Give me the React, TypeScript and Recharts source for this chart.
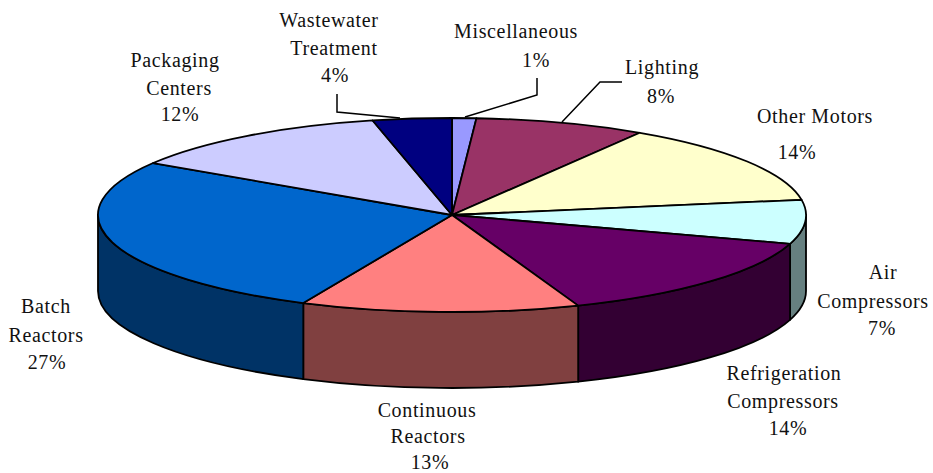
import { Pie, PieChart } from "recharts";

const categories = [
  "Miscellaneous",
  "Lighting",
  "Other Motors",
  "Air\nCompressors",
  "Refrigeration\nCompressors",
  "Continuous\nReactors",
  "Batch\nReactors",
  "Packaging\nCenters",
  "Wastewater\nTreatment",
];
const shares = [1.1, 7.8, 13.6, 7.3, 14.4, 12.7, 27.1, 12.4, 3.6];
const topColors = ["#9999FF", "#993366", "#FFFFCC", "#CCFFFF", "#660066", "#FF8080", "#0066CC", "#CCCCFF", "#000080"];
const wallColors = ["#666699", "#4D1A33", "#808066", "#668080", "#330033", "#804040", "#003366", "#666680", "#000040"];

// label placement, one entry per text line: centre x and baseline
const labelX = [
  [516, 536],
  [662, 661],
  [815, 797],
  [883, 873, 882],
  [784, 783, 788],
  [427, 428, 430],
  [46, 46, 47],
  [175, 179, 180],
  [329, 334, 335],
];
const labelBaselines = [
  [38, 67],
  [74, 103],
  [123, 159],
  [279, 308, 335],
  [380, 408, 435],
  [417, 443, 469],
  [313, 342, 369],
  [67, 95, 121],
  [27, 55, 82],
];
const leaderLines: Record<number, string> = {
  0: "537,78 537,95 465,117",
  1: "622,82 600,82 562,122",
  8: "337,94 337,112 400,118",
};

const data = categories.map((name, i) => ({ name, value: shares[i], fill: topColors[i], wall: wallColors[i] }));

const CX = 452;
const CY = 215;
const RX = 354;
const RY = 97;
const DEPTH = 76;

// recharts angles are counter-clockwise from 3 o'clock, squash them onto the ellipse
function point(angle: number, dy = 0) {
  const rad = (angle * Math.PI) / 180;
  return `${CX + RX * Math.cos(rad)} ${CY - RY * Math.sin(rad) + dy}`;
}

function TopSlice(props: any) {
  const { startAngle, endAngle, fill } = props;
  const large = Math.abs(startAngle - endAngle) > 180 ? 1 : 0;
  const d = `M ${CX} ${CY} L ${point(startAngle)} A ${RX} ${RY} 0 ${large} 1 ${point(endAngle)} Z`;
  return <path d={d} fill={fill} stroke="#000" strokeWidth={1.8} strokeLinejoin="round" />;
}

// only the part of a slice in the front half of the pie has a visible side
function WallSlice(props: any) {
  const { startAngle, endAngle, payload } = props;
  const from = Math.min(startAngle, 0);
  const to = Math.max(endAngle, -180);
  if (from <= to) return null;
  const d = `M ${point(from)} A ${RX} ${RY} 0 0 1 ${point(to)} L ${point(to, DEPTH)} A ${RX} ${RY} 0 0 0 ${point(from, DEPTH)} Z`;
  return <path d={d} fill={payload?.wall ?? props.wall} stroke="#000" strokeWidth={1.8} strokeLinejoin="round" />;
}

function SliceLabel(props: any) {
  const i = props.index;
  const lines = [...categories[i].split("\n"), `${Math.round(shares[i])}%`];
  return (
    <g>
      {leaderLines[i] && <polyline points={leaderLines[i]} fill="none" stroke="#000" strokeWidth={1.5} />}
      {lines.map((line, n) => (
        <text
          key={line}
          x={labelX[i][n]}
          y={labelBaselines[i][n]}
          textAnchor="middle"
          fontFamily="'Liberation Serif'"
          fontSize={20}
          letterSpacing={0.65}
          fill="#111"
        >
          {line}
        </text>
      ))}
    </g>
  );
}

export default function App() {
  return (
    <div style={{ position: "absolute", left: 0, top: 0, width: 933, height: 473, background: "#fff" }}>
      <PieChart width={933} height={473} margin={{ top: 0, right: 0, bottom: 0, left: 0 }}>
        <Pie
          data={data}
          dataKey="value"
          cx={CX}
          cy={CY}
          outerRadius={RX}
          startAngle={90}
          endAngle={-270}
          paddingAngle={0}
          shape={WallSlice}
          isAnimationActive={false}
          label={false}
          labelLine={false}
        />
        <Pie
          data={data}
          dataKey="value"
          cx={CX}
          cy={CY}
          outerRadius={RX}
          startAngle={90}
          endAngle={-270}
          paddingAngle={0}
          shape={TopSlice}
          isAnimationActive={false}
          label={SliceLabel}
          labelLine={false}
        />
      </PieChart>
    </div>
  );
}
